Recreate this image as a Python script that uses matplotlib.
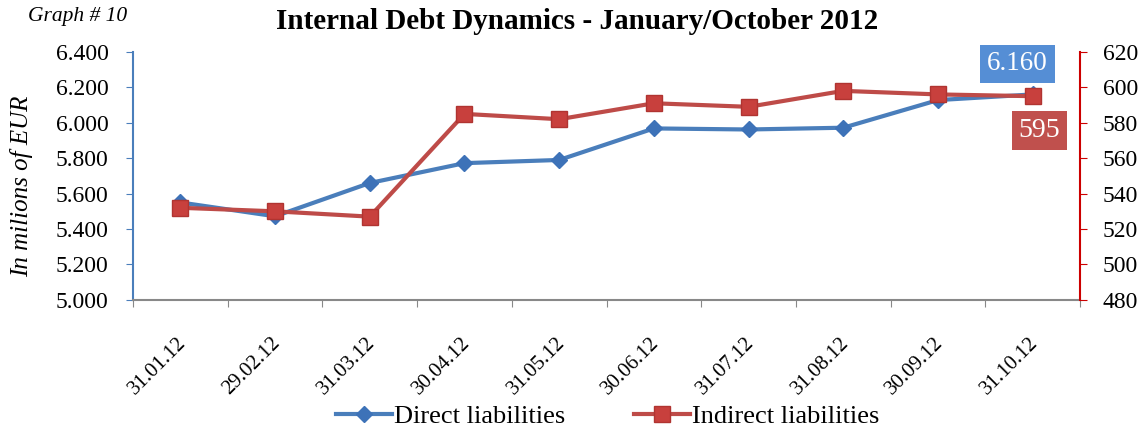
import matplotlib.pyplot as plt
import matplotlib.transforms as mtransforms
import numpy as np

plt.rcParams['font.family'] = ['Liberation Serif', 'DejaVu Serif']

dates = ['31.01.12', '29.02.12', '31.03.12', '30.04.12', '31.05.12',
         '30.06.12', '31.07.12', '31.08.12', '30.09.12', '31.10.12']
direct = [5550, 5472, 5660, 5772, 5790, 5968, 5962, 5972, 6128, 6160]
indirect = [532, 530, 527, 585, 582, 591, 589, 598, 596, 595]

blue = '#4A7EBB'
red = '#BE4B48'

fig = plt.figure(figsize=(11.47, 4.34), dpi=100)
ax1 = fig.add_axes([0.116, 0.309, 0.8256, 0.5714])
ax2 = ax1.twinx()

x = np.arange(len(dates))
l1, = ax1.plot(x, direct, color=blue, lw=3, marker='D', ms=8,
               markerfacecolor='#3D72B8', markeredgecolor='#3D72B8',
               label='Direct liabilities')
l2, = ax2.plot(x, indirect, color=red, lw=3, marker='s', ms=11,
               markerfacecolor='#C8403D', markeredgecolor='#B03431',
               label='Indirect liabilities')

ax1.set_xlim(-0.5, len(dates) - 0.5)
ax1.set_ylim(5000, 6400)
yt = np.arange(5000, 6401, 200)
ax1.set_yticks(yt)
ax1.set_yticklabels(['{:.3f}'.format(v / 1000) for v in yt])
ax2.set_ylim(480, 620)
ax2.set_yticks(np.arange(480, 621, 20))

ax1.set_xticks(np.arange(-0.5, len(dates), 1), minor=False)
ax1.set_xticklabels([])
ax1.set_xticks(x, minor=True)
ax1.set_xticklabels(dates, minor=True, rotation=45, ha='right',
                    rotation_mode='anchor', fontsize=15)
ax1.tick_params(axis='x', which='minor', length=0, pad=24)
ax1.tick_params(axis='x', which='major', length=5, color='#888888')
shift = mtransforms.ScaledTranslation(-0.04, 0, fig.dpi_scale_trans)
for lab in ax1.get_xticklabels(minor=True):
    lab.set_transform(lab.get_transform() + shift)

ax1.tick_params(axis='y', labelsize=17, color=blue, length=5, pad=12.5)
ax2.tick_params(axis='y', labelsize=17, color='#CC0000', length=5, pad=11.5)

for a in (ax1, ax2):
    a.spines['top'].set_visible(False)
ax1.spines['left'].set_color(blue)
ax1.spines['left'].set_linewidth(1.5)
ax2.spines['right'].set_color('#CC0000')
ax2.spines['right'].set_linewidth(1.5)
ax2.spines['left'].set_visible(False)
ax1.spines['right'].set_visible(False)
ax1.spines['bottom'].set_color('#888888')
ax1.spines['bottom'].set_linewidth(1.5)
ax2.spines['bottom'].set_visible(False)

ax1.set_ylabel('In milions of EUR', fontsize=18, style='italic')
ax1.yaxis.set_label_coords(-0.106, 0.46)

fig.text(0.503, 0.95, 'Internal Debt Dynamics - January/October 2012',
         ha='center', va='center', fontsize=21, weight='bold')
fig.text(0.024, 0.962, 'Graph # 10', ha='left', va='center',
         fontsize=15.5, style='italic')

ax1.annotate('6.160', xy=(x[-1], direct[-1]), xytext=(-11, 22),
             textcoords='offset points', ha='center', va='center',
             fontsize=19.5, color='white',
             bbox=dict(boxstyle='square,pad=0.25', fc='#558ED5', ec='none'))
ax2.annotate('595', xy=(x[-1], indirect[-1]), xytext=(5, -25),
             textcoords='offset points', ha='center', va='center',
             fontsize=20, color='white',
             bbox=dict(boxstyle='square,pad=0.25', fc='#C0504D', ec='none'))

fig.legend([l1, l2], ['Direct liabilities', 'Indirect liabilities'],
           loc='center', bbox_to_anchor=(0.53, 0.04), ncol=2, frameon=False,
           fontsize=19, handlelength=2.1, handletextpad=0.1, columnspacing=2.6)

fig.savefig('out.png', dpi=100)
